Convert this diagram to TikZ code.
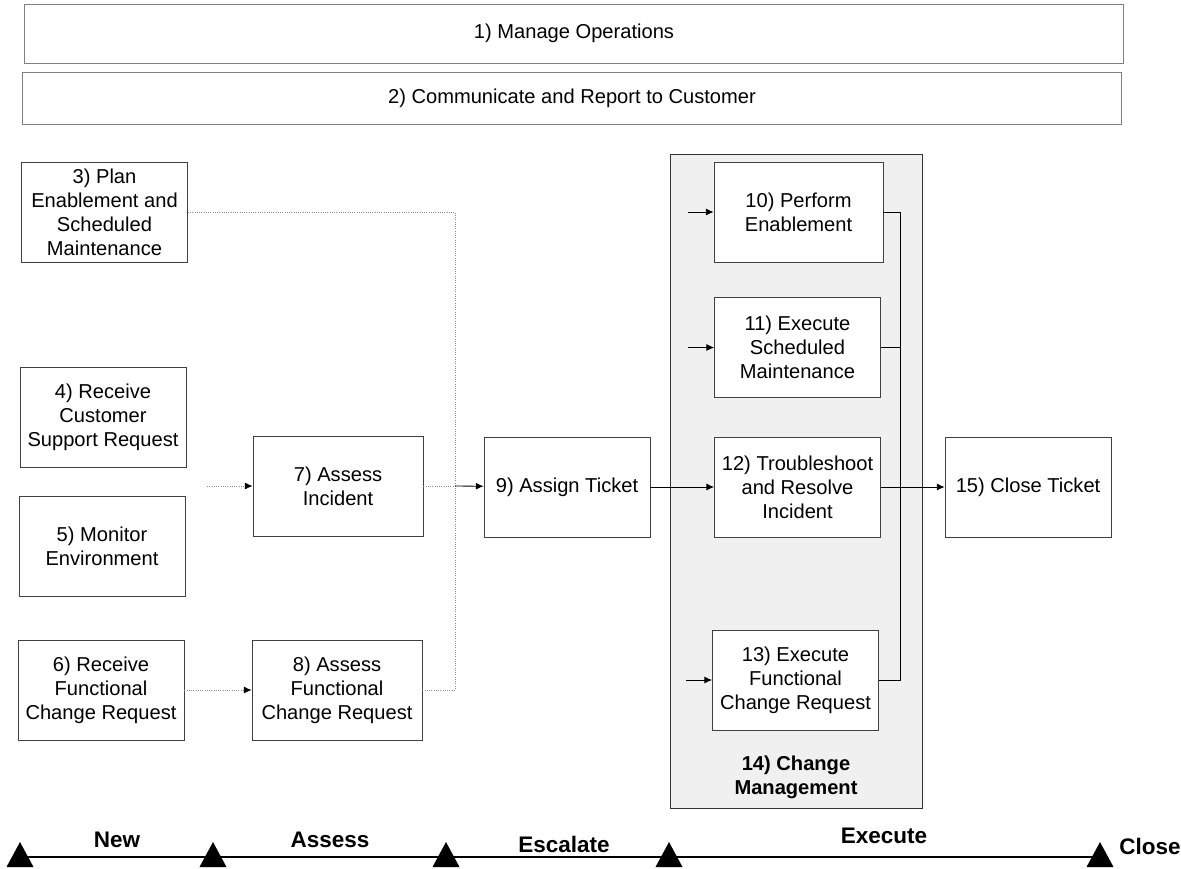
\documentclass[tikz,border=0pt]{standalone}
\usepackage{fontspec}
\setmainfont{Liberation Sans}
\usetikzlibrary{arrows.meta, positioning}
\tikzset{
    box/.style={
        draw=black!75,
        fill=white,
        line width=0.6pt,
        minimum width=4.15cm,
        minimum height=2.5cm,
        inner sep=1pt,
        align=center
    },
    widebox/.style={
        draw=black!50,
        line width=0.6pt,
        minimum width=27.45cm,
        align=center
    },
    groupbox/.style={
        draw=black!80,
        fill=black!6,
        line width=0.6pt,
        minimum width=6.3cm,
        minimum height=16.33cm
    },
    line/.style={-{Latex[length=5.5pt, width=5pt]}, line width=0.6pt},
    dotline/.style={densely dotted, draw=black!45, line width=0.6pt},
    feed/.style={dotline, -{Latex[length=5.5pt, width=5pt, color=black]}},
    bus/.style={line width=0.6pt},
    phase/.style={font=\fontsize{16}{18}\selectfont\bfseries},
    every node/.style={font=\fontsize{14.3}{17}\selectfont}
}
\begin{document}
\begin{tikzpicture}[x=0.025cm, y=-0.025cm]
\useasboundingbox (0,0) rectangle (1181,868);

% bands across the top
\node[widebox, minimum height=1.475cm] (ops) at (574,33.5) {1) Manage Operations};
\node[widebox, minimum height=1.3cm] (report) at (572,98) {2) Communicate and Report to Customer};

% change management group
\node[groupbox] (change) at (796,481.5) {};
\node[font=\fontsize{14.3}{17}\selectfont\bfseries, align=center] (changelbl) at (796,777) {14) Change\\Management};

\node[box] (plan) at (104.5,212) {3) Plan\\Enablement and\\Scheduled\\Maintenance};
\node[box] (receive) at (103,417.5) {4) Receive\\Customer\\Support Request};
\node[box] (monitor) at (102,546.5) {5) Monitor\\Environment};
\node[box] (fcr) at (101,690) {6) Receive\\Functional\\Change Request};
\node[box, minimum width=4.25cm] (incident) at (338,486) {7) Assess\\Incident};
\node[box, minimum width=4.25cm] (assessfcr) at (337,690) {8) Assess\\Functional\\Change Request};
\node[box] (assign) at (567,487) {9) Assign Ticket};
\node[box, minimum width=4.225cm] (enable) at (798.5,212) {10) Perform\\Enablement};
\node[box] (maint) at (797.5,347.5) {11) Execute\\Scheduled\\Maintenance};
\node[box] (resolve) at (797.5,487) {12) Troubleshoot\\and Resolve\\Incident};
\node[box] (execfcr) at (795.5,680) {13) Execute\\Functional\\Change Request};
\node[box] (close) at (1028,487) {15) Close Ticket};

% intake side
\coordinate (src7) at (207,486);
\coordinate (merge) at (455,486);
\draw[feed] (src7) -- (incident);
\draw[feed] (fcr) -- (assessfcr);
\draw[dotline] (plan) -| (merge);
\draw[dotline] (assessfcr) -| (merge);
\draw[dotline] (incident) -- (merge);
\draw[line] (merge) -- (assign);

% execution side
\draw[line] (assign) -- (resolve);
\coordinate (in10) at (688,212);
\coordinate (in11) at (688,347.5);
\coordinate (in13) at (686,680);
\draw[line] (in10) -- (enable);
\draw[line] (in11) -- (maint);
\draw[line] (in13) -- (execfcr);
\coordinate (bustop) at (900,212);
\coordinate (busbot) at (900,680);
\draw[bus] (enable) -- (bustop) -- (busbot) -- (execfcr);
\draw[bus] (maint) -- (maint -| bustop);
\draw[line] (resolve) -- (close);

% timeline
\draw[line width=2pt] (20,857) -- (1100,857);
\foreach \x in {20,213,446,669,1100}
    \fill (\x-13.5,867) -- (\x,842) -- (\x+13.5,867) -- cycle;
\node[phase] (pnew) at (117,840) {New};
\node[phase] (passess) at (330,840) {Assess};
\node[phase] (pesc) at (564,844) {Escalate};
\node[phase] (pexec) at (884,836) {Execute};
\node[phase] (pclose) at (1150,846) {Close};
\end{tikzpicture}
\end{document}
